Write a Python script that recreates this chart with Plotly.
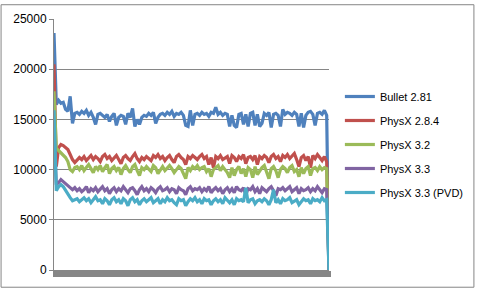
import plotly.graph_objects as go

series_names = ["Bullet 2.81", "PhysX 2.8.4", "PhysX 3.2", "PhysX 3.3", "PhysX 3.3 (PVD)"]
colors = ["#4F81BD", "#C0504D", "#9BBB59", "#8064A2", "#4BACC6"]

bullet_281 = [
    23600, 16500, 16900, 16600, 16700, 16000, 15800, 17300, 14600, 15600,
    15700, 15500, 15800, 15600, 15900, 15400, 15700, 15200, 14500, 15500,
    15600, 15400, 15200, 15500, 14800, 15300, 15600, 14400, 15200, 15400,
    15300, 14500, 15600, 15200, 16100, 14300, 15000, 14500, 15200, 15400,
    15300, 15600, 15400, 15700, 14600, 15200, 15500, 15600, 15400, 15700,
    15500, 15800, 15300, 15600, 15500, 15700, 15400, 14400, 14300, 15900,
    14400, 15500, 15600, 15400, 15700, 15500, 15600, 15300, 15700, 15600,
    16200, 15500, 15700, 15400, 15600, 15500, 14300, 15400, 14400, 14200,
    15500, 15600, 14500, 15500, 14300, 15600, 15700, 14400, 15500, 14300,
    14600, 15600, 15400, 15700, 14200, 15500, 15600, 15400, 14300, 16000,
    15500, 15700, 15600, 15400, 15700, 15500, 14300, 15600, 14200, 15400,
    15700, 15800, 15500, 14400, 15600, 15700, 15500, 15900, 15400, 0,
]

physx_284 = [
    20500, 10300, 12200, 12500, 12400, 12200, 12000, 11500, 11000, 10700,
    10900, 11200, 11000, 11300, 10900, 11200, 11400, 11000, 11300, 11100,
    10800, 11300, 11500, 11100, 11300, 10900, 11200, 11400, 11000, 10600,
    11200, 11400, 11100, 10900, 11300, 11600, 11100, 10800, 11200, 11000,
    11300, 11100, 10900, 11400, 11200, 11500, 11100, 11300, 10900, 11200,
    11400, 11000, 10700, 11300, 11500, 11200, 11000, 10500, 11300, 11100,
    11400, 11200, 11000, 11300, 11500, 11100, 11300, 10500, 11200, 10200,
    11300, 11100, 11400, 11000, 11200, 11300, 10600, 11400, 11200, 10800,
    11300, 11100, 11500, 10600, 11200, 11300, 11000, 11400, 10500, 11300,
    11100, 11400, 11200, 10700, 11300, 11500, 11100, 11300, 10800, 11400,
    11200, 11500, 11100, 11300, 11600, 11000, 10300, 11200, 11400, 10900,
    11300, 10200, 11400, 11100, 11500, 11200, 10900, 11300, 10800, 0,
]

physx_32 = [
    17800, 12100, 11900, 11700, 11500, 11200, 10800, 10000, 9800, 10200,
    10300, 10000, 10400, 9900, 10200, 10500, 10100, 9700, 10300, 10000,
    10400, 9800, 10200, 10500, 9600, 10100, 10300, 9900, 10200, 9500,
    10100, 10400, 10000, 9700, 10300, 10500, 9900, 9400, 10200, 10000,
    10300, 10100, 9800, 10400, 10200, 9600, 10000, 10300, 9900, 10200,
    10400, 10100, 9700, 10000, 10300, 10100, 9500, 9100, 10200, 9900,
    10300, 10100, 10400, 10000, 10200, 10300, 9800, 10100, 9300, 10000,
    10200, 10400, 9900, 10300, 10000, 9700, 9200, 10200, 9400, 10000,
    10300, 9600, 10100, 9300, 10200, 10000, 9200, 10300, 9500, 9900,
    10200, 10400, 9800, 9100, 10100, 10300, 9900, 9200, 10000, 10300,
    10100, 9700, 10200, 10400, 9800, 10000, 9300, 10200, 9600, 10100,
    10300, 9400, 10100, 10200, 9900, 10300, 10000, 10200, 10100, 0,
]

physx_33 = [
    14000, 8500, 8700, 9000, 8800, 8600, 8400, 8200, 8000, 8200,
    7900, 8100, 7800, 8000, 8300, 7700, 8100, 7900, 8200, 7800,
    8000, 8300, 7900, 8100, 7600, 8000, 8200, 7800, 8100, 7900,
    8300, 8000, 7700, 8100, 8200, 7900, 7500, 8000, 8300, 7900,
    8100, 7800, 8200, 8000, 7700, 8100, 8300, 7900, 8000, 8200,
    7800, 8100, 8000, 7600, 8200, 8000, 7900, 7500, 8100, 8300,
    7900, 8100, 8000, 8200, 7800, 8100, 7900, 8300, 7700, 8000,
    8200, 7900, 8100, 7600, 8000, 8200, 7800, 8100, 7700, 8300,
    8000, 7900, 8200, 7500, 8100, 8000, 8300, 7800, 8100, 7600,
    8200, 8000, 7800, 8100, 8300, 7900, 7400, 8100, 8000, 8200,
    7900, 8100, 8300, 7800, 8000, 8200, 7600, 8100, 7900, 8000,
    8200, 7800, 8100, 7900, 8300, 8000, 7700, 8100, 8000, 0,
]

physx_33_pvd = [
    15900, 7900, 8300, 8500, 8300, 7900, 7600, 7200, 6900, 7000,
    7100, 6800, 7000, 7200, 6900, 7100, 6700, 7000, 7300, 6900,
    7000, 6600, 7100, 6900, 6500, 7000, 7200, 6800, 7000, 6600,
    7100, 6900, 6400, 7000, 7200, 6800, 7000, 6500, 6900, 7100,
    6800, 7000, 7200, 6700, 6900, 7100, 6600, 7000, 6800, 7200,
    6900, 7000, 6700, 6500, 7100, 6900, 7000, 6400, 6800, 7100,
    6900, 7200, 6800, 7000, 6600, 7100, 6900, 7000, 6500, 6900,
    7100, 6800, 7000, 6600, 7200, 6900, 6700, 7000, 6500, 7100,
    6900, 7000, 6800, 8200, 6700, 7000, 7100, 6600, 6900, 7000,
    6800, 7100, 6900, 6500, 7000, 8000, 6700, 7000, 6600, 7100,
    6900, 7000, 7200, 6700, 6900, 7000, 6500, 6800, 7100, 6900,
    7000, 6600, 7100, 6900, 7000, 6800, 7200, 6900, 7000, 0,
]

y_ticks = [0, 5000, 10000, 15000, 20000, 25000]

all_series = [bullet_281, physx_284, physx_32, physx_33, physx_33_pvd]
n = len(bullet_281)
x = list(range(n))

fig = go.Figure()
for i, (name, vals, col) in enumerate(zip(series_names, all_series, colors)):
    fig.add_trace(go.Scatter(
        x=x, y=vals, mode="lines", name=name,
        line=dict(color=col, width=3.2),
        legendgroup=f"g{i}",
    ))

W, H = 481, 289
L, R, T, B = 54, 149, 15, 19
pw, ph = W - L - R, H - T - B

def px_to_paper_x(px):
    return (px - L) / pw

def px_to_paper_y(py):
    return (H - B - py) / ph

grid_col = "#868686"
fig.update_layout(
    width=W, height=H,
    margin=dict(l=L, r=R, t=T, b=B, pad=0),
    paper_bgcolor="white", plot_bgcolor="white",
    font=dict(family="Liberation Sans, Arial, sans-serif", size=12, color="black"),
    showlegend=True,
    legend=dict(
        x=px_to_paper_x(343), y=px_to_paper_y(79), xanchor="left", yanchor="top",
        font=dict(size=11, color="black"),
        traceorder="grouped", tracegroupgap=5,
        bgcolor="rgba(0,0,0,0)", borderwidth=0,
    ),
    xaxis=dict(
        range=[0, n - 1], showgrid=False, zeroline=False,
        showticklabels=False, ticks="outside", tickvals=x,
        ticklen=6, tickwidth=3, tickcolor=grid_col,
        showline=True, linecolor=grid_col, linewidth=1,
    ),
    yaxis=dict(
        range=[0, 25000], tickvals=y_ticks, ticktext=[str(v) for v in y_ticks],
        showgrid=True, gridcolor=grid_col, gridwidth=1, zeroline=False,
        ticks="outside", ticklen=4, tickcolor=grid_col,
        showline=True, linecolor=grid_col, linewidth=1,
        tickfont=dict(size=12, color="black"),
    ),
    shapes=[dict(
        type="rect", xref="paper", yref="paper",
        x0=px_to_paper_x(0.5), x1=px_to_paper_x(478.5),
        y0=px_to_paper_y(287.5), y1=px_to_paper_y(0.5),
        line=dict(color=grid_col, width=1), fillcolor="rgba(0,0,0,0)",
        layer="below",
    )],
)

fig.write_html("out.html")
